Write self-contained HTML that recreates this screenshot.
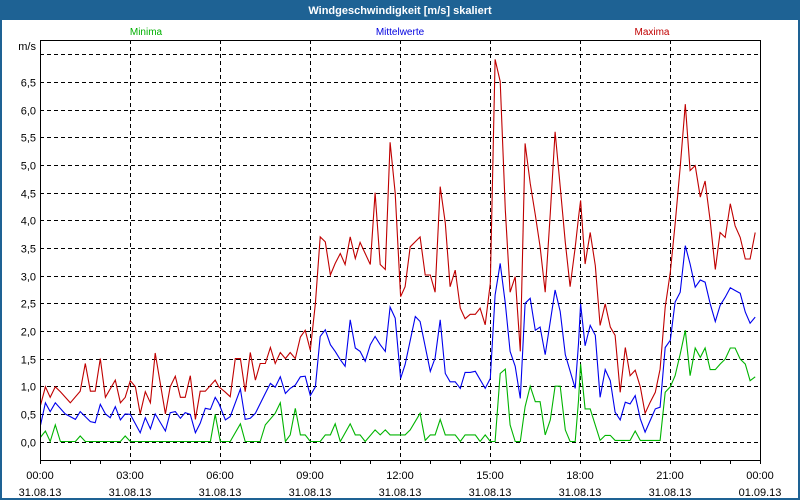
<!DOCTYPE html>
<html><head><meta charset="utf-8"><style>
html,body{margin:0;padding:0;background:#fff;}
#wrap{position:relative;width:800px;height:500px;overflow:hidden;font-family:"Liberation Sans",sans-serif;}
</style></head><body>
<div id="wrap">
<svg id="chart" width="800" height="500" xmlns="http://www.w3.org/2000/svg">
<rect x="0" y="0" width="800" height="500" fill="#1E6294"/>
<rect x="2" y="20" width="796" height="478" fill="#fff"/>
<text x="400" y="14" text-anchor="middle" font-size="11" font-weight="bold" fill="#fff">Windgeschwindigkeit [m/s] skaliert</text>
<text x="146" y="35" text-anchor="middle" font-size="10" fill="#00B000">Minima</text>
<text x="400" y="35" text-anchor="middle" font-size="10" fill="#0000E0">Mittelwerte</text>
<text x="652" y="35" text-anchor="middle" font-size="10" fill="#C00000">Maxima</text>
<text x="36" y="50" text-anchor="end" font-size="11" fill="#000">m/s</text>
<g id="grid"></g>
<g id="series"></g>
<g id="axes"></g>
</svg>
</div>
<script>
const yTicks = [0,0.5,1,1.5,2,2.5,3,3.5,4,4.5,5,5.5,6,6.5,7];
const yTickLabels = ["0,0","0,5","1,0","1,5","2,0","2,5","3,0","3,5","4,0","4,5","5,0","5,5","6,0","6,5",""];
const xTicks = [0,3,6,9,12,15,18,21,24];
const xTimeLabels = ["00:00","03:00","06:00","09:00","12:00","15:00","18:00","21:00","00:00"];
const xDateLabels = ["31.08.13","31.08.13","31.08.13","31.08.13","31.08.13","31.08.13","31.08.13","31.08.13","01.09.13"];

const maxHours = [0.02,0.18,0.34,0.51,0.68,1.01,1.34,1.51,1.68,1.84,2.01,2.18,2.51,2.68,2.84,3.01,3.18,3.34,3.51,3.68,3.84,4.18,4.34,4.51,4.68,4.84,5.01,5.18,5.34,5.51,5.84,
5.96,6.16,6.34,6.51,6.68,6.84,7.01,7.18,7.34,7.51,7.68,7.84,8.01,8.18,8.34,8.51,8.68,8.84,9.01,9.18,9.34,9.51,9.68,9.84,10.01,10.17,10.34,10.51,10.67,10.84,11.01,11.17,11.34,11.51,11.67,11.84,
12.02,12.17,12.34,12.67,12.84,13.01,13.17,13.34,13.51,13.67,13.84,14.01,14.17,14.34,14.51,14.67,14.84,15.01,15.17,15.34,15.51,15.67,15.84,16.01,16.17,16.34,16.51,16.67,16.84,17.01,17.17,17.34,17.51,17.67,17.84,
17.95,18.02,18.17,18.34,18.51,18.67,18.84,19.01,19.17,19.34,19.51,19.67,19.84,20.01,20.17,20.34,20.51,20.67,20.84,21.01,21.17,21.34,21.51,21.67,21.84,22.01,22.17,22.34,22.51,22.67,22.84,23.01,23.17,23.34,23.51,23.67,23.84];
const maxValues = [0.66,0.99,0.8,0.99,0.9,0.7,0.91,1.41,0.91,0.91,1.5,0.8,1.11,0.7,0.8,1.1,0.99,0.5,0.9,0.7,1.6,0.5,0.99,1.18,0.8,0.8,1.19,0.4,0.91,0.91,1.11,
0.99,0.9,0.81,1.5,1.5,0.9,1.61,1.11,1.41,1.41,1.7,1.41,1.61,1.5,1.61,1.5,1.89,2.01,1.65,2.5,3.7,3.61,3.01,3.22,3.4,3.2,3.7,3.31,3.6,3.4,3.2,4.5,3.2,3.11,5.41,4.49,
2.62,2.8,3.52,3.7,3.01,3.01,2.7,4.61,3.95,2.8,3.1,2.41,2.22,2.3,2.3,2.41,2.11,2.86,6.91,6.51,4.19,2.7,2.98,1.63,5.39,4.67,4.1,3.52,2.7,4.13,5.6,4.61,3.6,2.8,3.51,
4.05,4.36,3.21,3.78,3.18,2.1,2.49,2.07,1.92,0.89,1.7,1.19,1.29,0.99,0.51,0.71,0.89,1.31,2.43,3.06,3.93,4.96,6.1,4.9,4.99,4.42,4.71,3.99,3.11,3.78,3.69,4.3,3.9,3.69,3.3,3.3,3.78];

const meanHours = [0.02,0.18,0.34,0.51,0.84,1.18,1.34,1.68,1.84,2.01,2.18,2.34,2.51,2.68,2.84,3.01,3.34,3.51,3.68,3.84,4.18,4.34,4.51,4.68,4.84,5.01,5.18,5.34,5.51,5.68,5.84,
5.96,6.18,6.34,6.68,6.84,7.01,7.18,7.51,7.68,7.84,8.01,8.18,8.34,8.51,8.68,8.84,9.01,9.18,9.34,9.51,9.68,9.84,10.01,10.17,10.34,10.51,10.67,10.84,11.01,11.17,11.34,11.51,11.67,11.84,
12.02,12.17,12.51,12.67,13.01,13.17,13.34,13.51,13.67,13.84,14.01,14.17,14.34,14.51,14.84,15.01,15.17,15.34,15.51,15.67,15.84,16.01,16.17,16.34,16.51,16.67,16.84,17.17,17.34,17.51,17.84,
17.95,18.02,18.17,18.34,18.51,18.67,18.84,19.01,19.17,19.34,19.51,19.67,19.84,20.01,20.17,20.34,20.51,20.67,20.84,21.01,21.17,21.34,21.51,21.67,21.84,22.01,22.17,22.34,22.51,22.67,22.84,23.01,23.17,23.34,23.51,23.67,23.84];
const meanValues = [0.3,0.7,0.54,0.7,0.5,0.4,0.54,0.36,0.34,0.67,0.5,0.43,0.63,0.39,0.5,0.49,0.16,0.43,0.23,0.5,0.19,0.52,0.54,0.42,0.52,0.49,0.16,0.33,0.6,0.58,0.8,
0.69,0.39,0.45,0.95,0.4,0.42,0.51,0.87,1.05,0.98,1.17,0.87,0.96,1.02,1.17,1.18,0.83,0.99,1.9,2.02,1.75,1.63,1.48,1.36,2.2,1.69,1.63,1.45,1.75,1.9,1.75,1.63,2.43,2.23,
1.14,1.39,2.26,2.17,1.27,1.51,2.2,1.23,1.08,1.08,0.96,1.25,1.25,1.27,0.96,1.14,2.65,3.22,2.5,1.63,1.36,0.78,2.5,2.59,2.01,2.07,1.57,2.74,2.35,1.57,0.96,
1.77,2.49,1.73,2.1,1.92,0.8,1.3,1.1,0.53,0.39,0.71,0.68,0.83,0.41,0.17,0.38,0.59,0.62,1.7,1.83,2.52,2.7,3.54,3.21,2.79,2.92,2.88,2.49,2.17,2.46,2.61,2.78,2.73,2.68,2.34,2.14,2.25];

const minHours = [0.02,0.18,0.34,0.51,0.68,1.18,1.34,1.51,2.68,2.84,3.01,5.68,5.84,6.01,
6.34,6.68,6.84,7.34,7.51,7.84,8.01,8.18,8.34,8.51,8.68,8.84,9.01,9.34,9.51,9.68,9.84,10.01,10.34,10.51,10.67,10.84,11.17,11.34,11.51,11.67,
11.95,12.17,12.34,12.67,12.84,13.01,13.17,13.34,13.51,13.84,14.01,14.17,14.51,14.67,14.84,15.01,15.17,15.34,15.51,15.67,15.84,16.01,16.17,16.34,16.51,16.67,16.84,17.01,17.17,17.34,17.51,17.67,17.84,
17.95,18.02,18.17,18.34,18.67,18.84,19.01,19.17,19.67,19.84,20.01,20.67,20.84,21.01,21.17,21.34,21.51,21.67,21.84,22.01,22.17,22.34,22.51,22.67,22.84,23.01,23.17,23.34,23.51,23.67,23.84];
const minValues = [0.08,0.19,0,0.3,0,0,0.1,0,0,0.1,0,0,0.49,0,
0,0.32,0,0,0.3,0.51,0.7,0,0.12,0.6,0.12,0.12,0,0,0.12,0.12,0.32,0,0.32,0.12,0.12,0,0.21,0.12,0.21,0.12,
0.12,0.12,0.21,0.51,0.02,0.12,0.12,0.4,0.12,0.12,0,0.12,0.12,0,0.12,0,0,1.23,1.31,0.3,0,0,0.63,1.0,0.72,0.72,0.12,0.39,1.0,1.0,0.21,0,0,
0.74,1.4,0.59,0.59,0.02,0.11,0.11,0.02,0.02,0.19,0.02,0.02,0.89,0.99,1.19,1.58,2.01,1.19,1.69,1.52,1.69,1.3,1.3,1.4,1.49,1.69,1.69,1.49,1.4,1.1,1.17];

const NS = "http://www.w3.org/2000/svg";
const PL = 40, PR = 760, PT = 40, PB = 460;
function xScale(h){ return PL + h * (PR - PL) / 24; }
function yScale(v){ return 441.5 - v * 55.3; }
function mk(tag, attrs, parent){ const e = document.createElementNS(NS, tag); for (const k in attrs) e.setAttribute(k, attrs[k]); parent.appendChild(e); return e; }

const grid = document.getElementById('grid');
const axes = document.getElementById('axes');
const series = document.getElementById('series');

yTicks.forEach((v, i) => {
  const y = Math.round(yScale(v)) + 0.5;
  const l = mk('line', {x1: PL, x2: PR, y1: y, y2: y, stroke: '#000', 'stroke-width': 1, 'stroke-dasharray': '4,3'}, grid);
  
  
  if (yTickLabels[i]) {
    const t = mk('text', {x: 36, y: y + 4, 'text-anchor': 'end', 'font-size': 11, fill: '#000'}, axes);
    t.textContent = yTickLabels[i];
    
    
  }
});

xTicks.forEach((h, i) => {
  const x = Math.round(xScale(h)) + 0.5;
  if (h > 0 && h < 24) {
    const l = mk('line', {x1: x, x2: x, y1: PT, y2: PB, stroke: '#000', 'stroke-width': 1, 'stroke-dasharray': '4,3'}, grid);
    
    
  }
  const t1 = mk('text', {x: xScale(h), y: 479, 'text-anchor': 'middle', 'font-size': 11, fill: '#000'}, axes);
  t1.textContent = xTimeLabels[i];
  
  
  const t2 = mk('text', {x: xScale(h), y: 496, 'text-anchor': 'middle', 'font-size': 11, fill: '#000'}, axes);
  t2.textContent = xDateLabels[i];
  
  
});

for (let h = 0; h <= 24; h++) {
  const x = Math.round(xScale(h)) + 0.5;
  const tk = mk('line', {x1: x, x2: x, y1: PB, y2: PB + 4, stroke: '#000', 'stroke-width': 1}, axes);
  
  
}

const frame = mk('path', {d: `M${PL+0.5},${PT+0.5} H${PR+0.5} V${PB+0.5} H${PL+0.5} Z`, fill: 'none', stroke: '#000', 'stroke-width': 1}, axes);



const defs = mk('defs', {}, series);
const cp = mk('clipPath', {id: 'plotclip'}, defs);
mk('rect', {x: PL, y: PT, width: PR - PL, height: PB - PT}, cp);

function drawSeries(hours, values, color, name){
  const pts = hours.map((h, i) => xScale(h).toFixed(1) + ',' + yScale(values[i]).toFixed(1)).join(' ');
  const p = mk('polyline', {points: pts, fill: 'none', stroke: color, 'stroke-width': 1.1, 'clip-path': 'url(#plotclip)'}, series);
  
  
}
drawSeries(maxHours, maxValues, '#C00000', 'maxima-line');
drawSeries(meanHours, meanValues, '#0000EE', 'mittelwerte-line');
drawSeries(minHours, minValues, '#00B400', 'minima-line');
</script>
</body></html>
